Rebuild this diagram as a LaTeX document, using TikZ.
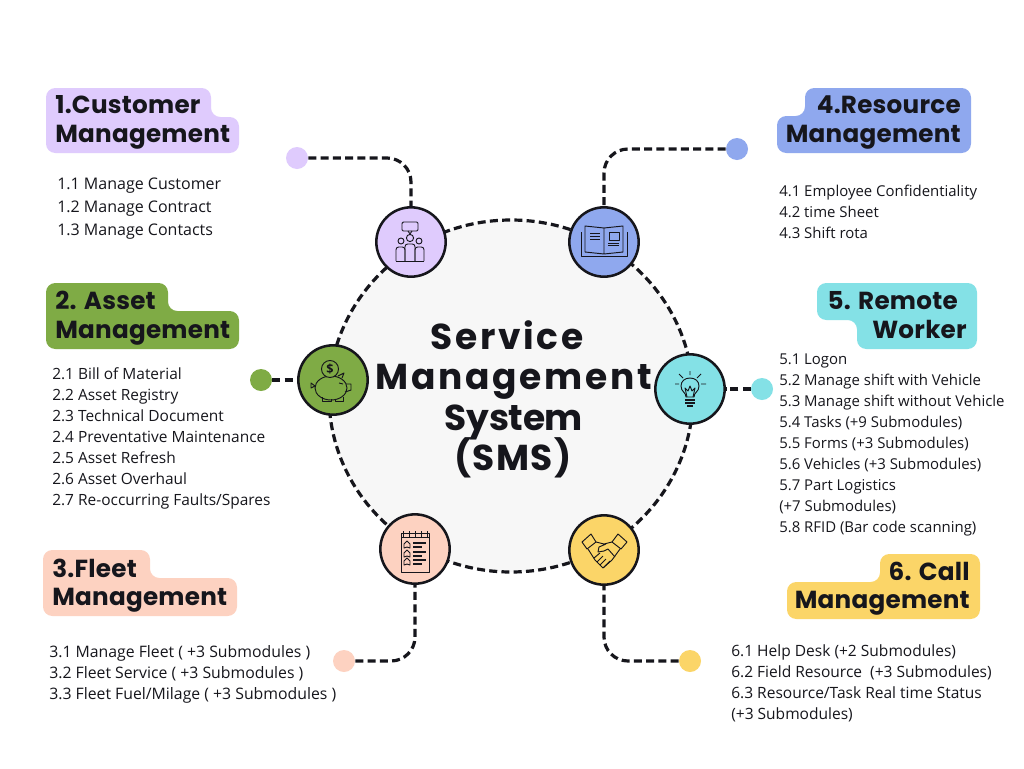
\documentclass[tikz,border=0pt]{standalone}
\usepackage{fontspec}
\usetikzlibrary{shapes.geometric}
\setmainfont{Open Sans}
\newfontfamily\headfont[LetterSpace=1]{Poppins}
\newfontfamily\titlefont[LetterSpace=7.5]{Poppins}
\newfontfamily\titletight[LetterSpace=-1]{Poppins}
\newfontfamily\titlemid[LetterSpace=4]{Poppins}
\definecolor{custcol}{HTML}{DFCBFD}
\definecolor{assetcol}{HTML}{7FAB45}
\definecolor{fleetcol}{HTML}{FDD2C1}
\definecolor{rescol}{HTML}{8FA8EE}
\definecolor{remotecol}{HTML}{84E1E6}
\definecolor{callcol}{HTML}{FBD568}
\definecolor{hubcol}{HTML}{F7F7F7}
\definecolor{inkcol}{HTML}{16161C}
\begin{document}
\begin{tikzpicture}[x=0.75pt, y=-0.75pt, line cap=butt, line join=round]
	\tikzset{ring/.style={draw=inkcol, line width=2.4pt, dash pattern=on 6pt off 3.2pt}}
	\tikzset{link/.style={ring, rounded corners=18pt}}
	\tikzset{hub/.style={ellipse, ring, fill=hubcol, minimum width=273pt, minimum height=264pt, inner sep=0pt}}
	\tikzset{badge/.style={circle, draw=inkcol, line width=1.9pt, minimum size=52pt, inner sep=0pt}}
	\tikzset{enddot/.style={circle, minimum size=16.5pt, inner sep=0pt}}
	\tikzset{heading/.style={font=\headfont\bfseries\fontsize{18.5}{21}\selectfont, text=inkcol, inner sep=0pt}}
	\tikzset{titleline/.style={text=inkcol, anchor=base, inner sep=0pt}}
	\tikzset{listtext/.style={text=inkcol, anchor=north west, align=left, inner sep=0pt}}
	\tikzset{glyph/.style={draw=inkcol, line width=0.7pt}}
	\useasboundingbox (0,0) rectangle (1024,768);
	\fill[white] (0,0) rectangle (1024,768);
	\node[hub] (hub) at (511,396) {};
	\node[titleline, font=\titlefont\bfseries\fontsize{27}{30}\selectfont] (title) at (507,349) {Service};
	\node[titleline, font=\titlefont\bfseries\fontsize{27}{30}\selectfont] (title2) at (514,389.5) {Management};
	\node[titleline, font=\titletight\bfseries\fontsize{27}{30}\selectfont] (title3) at (514,430) {System};
	\node[titleline, font=\titlemid\bfseries\fontsize{27}{30}\selectfont] (title4) at (513,470.5) {(SMS)};

	\fill[custcol, rounded corners=7pt] (46,88)--(211,88)--(211,117)--(239,117)--(239,153)--(46,153)--cycle;
	\fill[assetcol, rounded corners=7pt] (46,283)--(168,283)--(168,311)--(239,311)--(239,349)--(46,349)--cycle;
	\fill[fleetcol, rounded corners=7pt] (43,550)--(150,550)--(150,578)--(237,578)--(237,616)--(43,616)--cycle;
	\fill[rescol, rounded corners=7pt] (805,88)--(971,88)--(971,153)--(777,153)--(777,116)--(805,116)--cycle;
	\fill[remotecol, rounded corners=7pt] (817,283)--(977,283)--(977,349)--(857,349)--(857,320)--(817,320)--cycle;
	\fill[callcol, rounded corners=7pt] (880,554)--(980,554)--(980,619)--(787,619)--(787,582)--(880,582)--cycle;

	\node[heading, anchor=base west] (custhead) at (55,113) {1.Customer};
	\node[heading, anchor=base west] (custhead2) at (55,142) {Management};
	\node[heading, anchor=base west] (assethead) at (55,309) {2. Asset};
	\node[heading, anchor=base west] (assethead2) at (55,338) {Management};
	\node[heading, anchor=base west] (fleethead) at (52,577) {3.Fleet};
	\node[heading, anchor=base west] (fleethead2) at (52,605) {Management};
	\node[heading, anchor=base east] (reshead) at (961,113) {4.Resource};
	\node[heading, anchor=base east] (reshead2) at (961,142) {Management};
	\node[heading, anchor=base east] (remotehead) at (958,309) {5. Remote};
	\node[heading, anchor=base east] (remotehead2) at (967,338) {Worker};
	\node[heading, anchor=base east] (callhead) at (970,580) {6. Call};
	\node[heading, anchor=base east] (callhead2) at (970,608) {Management};

	\node[listtext, font=\fontsize{12}{17.25}\selectfont] (custlist) at (57,178) {1.1 Manage Customer\\1.2 Manage Contract\\1.3 Manage Contacts};
	\node[listtext, font=\fontsize{11.6}{15.75}\selectfont] (assetlist) at (52,367) {2.1 Bill of Material\\2.2 Asset Registry\\2.3 Technical Document\\2.4 Preventative Maintenance\\2.5 Asset Refresh\\2.6 Asset Overhaul\\2.7 Re-occurring Faults/Spares};
	\node[listtext, font=\fontsize{11.85}{16}\selectfont] (fleetlist) at (49,645) {3.1 Manage Fleet ( +3 Submodules )\\3.2 Fleet Service ( +3 Submodules )\\3.3 Fleet Fuel/Milage ( +3 Submodules )};
	\node[listtext, font=\fontsize{11.2}{15.75}\selectfont] (reslist) at (779,184.5) {4.1 Employee Confidentiality\\4.2 time Sheet\\4.3 Shift rota};
	\node[listtext, font=\fontsize{11.2}{15.75}\selectfont] (remotelist) at (779,354) {5.1 Logon\\5.2 Manage shift with Vehicle\\5.3 Manage shift without Vehicle\\5.4 Tasks (+9 Submodules)\\5.5 Forms (+3 Submodules)\\5.6 Vehicles (+3 Submodules)\\5.7 Part Logistics\\(+7 Submodules)\\5.8 RFID (Bar code scanning)};
	\node[listtext, font=\fontsize{11.65}{15.75}\selectfont] (calllist) at (731,644.5) {6.1 Help Desk (+2 Submodules)\\6.2 Field Resource~ (+3 Submodules)\\6.3 Resource/Task Real time Status\\(+3 Submodules)};

	\node[badge, fill=custcol] (cust) at (411,242) {};
	\node[badge, fill=assetcol] (asset) at (333,380) {};
	\node[badge, fill=fleetcol] (fleet) at (415,549) {};
	\node[badge, fill=rescol] (res) at (604,242) {};
	\node[badge, fill=remotecol] (remote) at (690,389) {};
	\node[badge, fill=callcol] (call) at (604,550) {};

	\node[enddot, fill=custcol] (custdot) at (297,158) {};
	\node[enddot, fill=assetcol] (assetdot) at (261,380) {};
	\node[enddot, fill=fleetcol] (fleetdot) at (344,661) {};
	\node[enddot, fill=rescol] (resdot) at (737,149) {};
	\node[enddot, fill=remotecol] (remotedot) at (762,389) {};
	\node[enddot, fill=callcol] (calldot) at (690,661) {};

	\draw[link] (custdot) -| (cust);
	\draw[link] (assetdot) -- (asset);
	\draw[link] (fleetdot) -| (fleet);
	\draw[link] (resdot) -| (res);
	\draw[link] (remotedot) -- (remote);
	\draw[link] (calldot) -| (call);

	\draw[glyph, rounded corners=1pt] (402,222) rectangle (418,231);
	\draw[glyph] (408,231)--(410,234)--(412,231);
	\draw[glyph] (410,238) circle (3.6) (401,241) circle (3) (419,241) circle (3);
	\draw[glyph, rounded corners=2pt] (396,261)--(396,247)--(405,247)--(405,261);
	\draw[glyph, rounded corners=2pt] (424,261)--(424,247)--(415,247)--(415,261);
	\draw[glyph, rounded corners=2pt] (405,261)--(405,244)--(415,244)--(415,261);
	\draw[glyph] (396,261)--(424,261);

	\draw[glyph] (581,232)--(581,256)--(627,256)--(627,232);
	\draw[glyph] (585,252)--(585,226)--(604,228)--(623,226)--(623,252)--(604,254)--cycle (604,228)--(604,254);
	\draw[glyph] (590,233)--(600,233) (590,236)--(600,236) (590,239)--(600,239);
	\draw[glyph] (609,232) rectangle (619,240) (608,243)--(619,243) (608,245)--(619,245);

	\draw[glyph] (331,388) ellipse (16 and 12);
	\draw[glyph] (342,378)--(344,373)--(338,376) (346,384)--(351,384)--(351,390)--(345,392) (339,383)--(343,384);
	\draw[glyph] (315,386)--(311,383)--(311,388)--(315,386);
	\draw[glyph] (322,397)--(322,401)--(331,401)--(331,399) (335,399)--(335,401)--(343,401)--(343,397);
	\draw[glyph, fill=assetcol] (330,369) circle (8.5);
	\node[font=\fontsize{9.5}{10}\bfseries\selectfont, text=inkcol, inner sep=0pt] (coin) at (330,369.5) {\$};

	\draw[glyph] (686,397)..controls (686,392) and (681,392) ..(681,386)..controls (681,381) and (685,378) ..(690,378)..controls (695,378) and (699,381) ..(699,386)..controls (699,392) and (694,392) ..(694,397)--cycle;
	\draw[glyph] (687,397)--(685,388)--(688,391)--(690,386)--(692,391)--(695,388)--(693,397);
	\draw[glyph, line width=1pt] (685,400)--(695,400) (685,403)--(695,403) (687,406)--(693,406);
	\draw[glyph] (690,371)--(690,375) (679,374)--(683,378) (701,374)--(697,378) (675,384)--(679,384) (701,384)--(706,384);

	\draw[glyph] (401,533) rectangle (429,572);
	\draw[glyph] (401,537)--(429,537) (403,531)--(403,537) (409,531)--(409,537) (415,531)--(415,537) (421,531)--(421,537) (427,531)--(427,537);
	\foreach \y in {545,554,562} {
		\draw[glyph] (407,\y-4)--(410,\y-1)--(410,\y+3)--(407,\y+2)--(404,\y+3)--(404,\y-1)--cycle;
		\draw[glyph, line width=1pt] (413,\y-2)--(426,\y-2) (413,\y+2)--(422,\y+2);
	}

	\draw[glyph] (582,542)--(591,534)--(596,542)--(587,549)--cycle (627,542)--(618,534)--(612,542)--(621,549)--cycle;
	\draw[glyph] (588,549)--(595,560)--(603,568)--(612,560)--(620,549);
	\draw[glyph] (596,542)--(604,544)--(612,542) (606,544)--(599,547)--(598,552)--(604,551)--(608,549)--(615,557);
	\draw[glyph] (594,558)--(600,553) (597,562)--(603,556) (600,565)--(606,559) (604,567)--(610,561);
\end{tikzpicture}
\end{document}
